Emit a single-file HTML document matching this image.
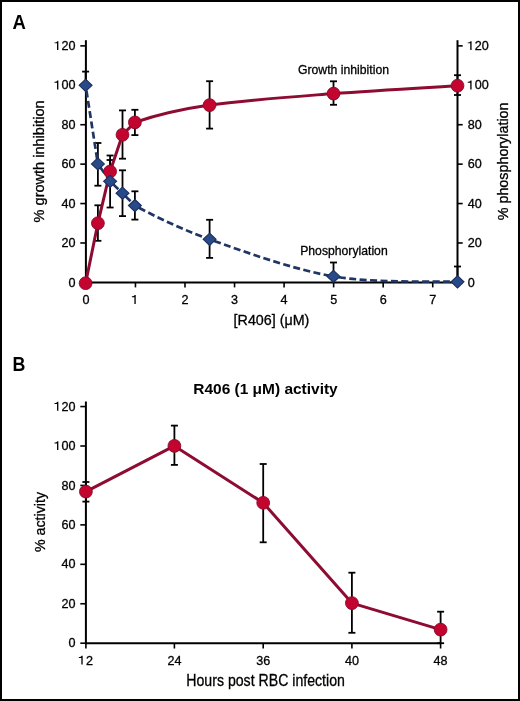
<!DOCTYPE html>
<html><head><meta charset="utf-8"><style>
html,body{margin:0;padding:0;background:#fff;}
body{width:520px;height:701px;position:relative;overflow:hidden;font-family:"Liberation Sans", sans-serif;}
</style></head><body>
<svg width="520" height="701" viewBox="0 0 520 701" style="position:absolute;left:0;top:0">
<style>text{stroke:#000;stroke-width:0.3px;}text[font-weight="bold"]{stroke:none;}</style>
<rect x="0" y="0" width="520" height="701" fill="#fff"/>
<defs><filter id="ff" filterUnits="userSpaceOnUse" x="0" y="0" width="520" height="701"><feOffset dx="0" dy="0"/></filter></defs>
<g filter="url(#ff)">
<rect x="1" y="1" width="518" height="699" fill="none" stroke="#000" stroke-width="2"/>
<text transform="translate(12.6,28.7) scale(0.95,1)" font-family='"Liberation Sans", sans-serif' font-weight="bold" font-size="19.5">A</text>
<g stroke="#000" fill="none">
<line x1="85.9" y1="40.2" x2="85.9" y2="283.4" stroke-width="2"/>
<line x1="457.5" y1="40.2" x2="457.5" y2="283.4" stroke-width="2"/>
<line x1="84.9" y1="282.4" x2="458.5" y2="282.4" stroke-width="2"/>
<line x1="80.30000000000001" y1="282.40" x2="85.9" y2="282.40" stroke-width="1.6"/>
<line x1="457.5" y1="282.40" x2="462.7" y2="282.40" stroke-width="1.6"/>
<line x1="80.30000000000001" y1="242.98" x2="85.9" y2="242.98" stroke-width="1.6"/>
<line x1="457.5" y1="242.98" x2="462.7" y2="242.98" stroke-width="1.6"/>
<line x1="80.30000000000001" y1="203.56" x2="85.9" y2="203.56" stroke-width="1.6"/>
<line x1="457.5" y1="203.56" x2="462.7" y2="203.56" stroke-width="1.6"/>
<line x1="80.30000000000001" y1="164.14" x2="85.9" y2="164.14" stroke-width="1.6"/>
<line x1="457.5" y1="164.14" x2="462.7" y2="164.14" stroke-width="1.6"/>
<line x1="80.30000000000001" y1="124.72" x2="85.9" y2="124.72" stroke-width="1.6"/>
<line x1="457.5" y1="124.72" x2="462.7" y2="124.72" stroke-width="1.6"/>
<line x1="80.30000000000001" y1="85.30" x2="85.9" y2="85.30" stroke-width="1.6"/>
<line x1="457.5" y1="85.30" x2="462.7" y2="85.30" stroke-width="1.6"/>
<line x1="80.30000000000001" y1="45.88" x2="85.9" y2="45.88" stroke-width="1.6"/>
<line x1="457.5" y1="45.88" x2="462.7" y2="45.88" stroke-width="1.6"/>
<line x1="85.90" y1="282.4" x2="85.90" y2="287.4" stroke-width="1.6"/>
<line x1="135.45" y1="282.4" x2="135.45" y2="287.4" stroke-width="1.6"/>
<line x1="184.99" y1="282.4" x2="184.99" y2="287.4" stroke-width="1.6"/>
<line x1="234.54" y1="282.4" x2="234.54" y2="287.4" stroke-width="1.6"/>
<line x1="284.09" y1="282.4" x2="284.09" y2="287.4" stroke-width="1.6"/>
<line x1="333.63" y1="282.4" x2="333.63" y2="287.4" stroke-width="1.6"/>
<line x1="383.18" y1="282.4" x2="383.18" y2="287.4" stroke-width="1.6"/>
<line x1="432.73" y1="282.4" x2="432.73" y2="287.4" stroke-width="1.6"/>
</g>
<g font-family='"Liberation Sans", sans-serif' font-size="12.6" fill="#000">
<text x="68.59" y="286.50">0</text>
<text x="467.80" y="286.50">0</text>
<text x="61.59" y="247.08">20</text>
<text x="467.80" y="247.08">20</text>
<text x="61.59" y="207.66">40</text>
<text x="467.80" y="207.66">40</text>
<text x="61.59" y="168.24">60</text>
<text x="467.80" y="168.24">60</text>
<text x="61.59" y="128.82">80</text>
<text x="467.80" y="128.82">80</text>
<path d="M58.36,89.40 L57.04,89.40 L57.04,82.78 L54.52,82.78 L54.52,81.84 C55.97,81.78 57.10,81.34 57.29,80.58 L58.36,80.58 Z" fill="#000"/><text x="61.59" y="89.40">00</text>
<path d="M471.58,89.40 L470.26,89.40 L470.26,82.78 L467.74,82.78 L467.74,81.84 C469.19,81.78 470.32,81.34 470.51,80.58 L471.58,80.58 Z" fill="#000"/><text x="474.81" y="89.40">00</text>
<path d="M58.36,49.98 L57.04,49.98 L57.04,43.36 L54.52,43.36 L54.52,42.42 C55.97,42.36 57.10,41.92 57.29,41.16 L58.36,41.16 Z" fill="#000"/><text x="61.59" y="49.98">20</text>
<path d="M471.58,49.98 L470.26,49.98 L470.26,43.36 L467.74,43.36 L467.74,42.42 C469.19,42.36 470.32,41.92 470.51,41.16 L471.58,41.16 Z" fill="#000"/><text x="474.81" y="49.98">20</text>
<text x="82.40" y="303.90">0</text>
<path d="M135.72,303.90 L134.40,303.90 L134.40,297.28 L131.88,297.28 L131.88,296.34 C133.33,296.28 134.46,295.84 134.65,295.08 L135.72,295.08 Z" fill="#000"/>
<text x="181.49" y="303.90">2</text>
<text x="231.04" y="303.90">3</text>
<text x="280.58" y="303.90">4</text>
<text x="330.13" y="303.90">5</text>
<text x="379.68" y="303.90">6</text>
<text x="429.22" y="303.90">7</text>
</g>
<text x="271.5" y="324.5" font-family='"Liberation Sans", sans-serif' font-size="14.3" text-anchor="middle">[R406] (μM)</text>
<text transform="translate(44.1,161.4) rotate(-90)" font-family='"Liberation Sans", sans-serif' font-size="14.3" text-anchor="middle" textLength="122" lengthAdjust="spacingAndGlyphs">% growth inhibition</text>
<text transform="translate(507.7,161.4) rotate(-90)" font-family='"Liberation Sans", sans-serif' font-size="14.3" text-anchor="middle" textLength="117.8" lengthAdjust="spacingAndGlyphs">% phosphorylation</text>
<text x="298" y="74" font-family='"Liberation Sans", sans-serif' font-size="12.6" textLength="91" lengthAdjust="spacingAndGlyphs">Growth inhibition</text>
<text x="300.2" y="255.1" font-family='"Liberation Sans", sans-serif' font-size="12.6" textLength="87.5" lengthAdjust="spacingAndGlyphs">Phosphorylation</text>
<g stroke="#000" stroke-width="1.8" fill="none">
<line x1="97.90" y1="205.30" x2="97.90" y2="240.80"/><line x1="94.40" y1="205.30" x2="101.40" y2="205.30"/><line x1="94.40" y1="240.80" x2="101.40" y2="240.80"/>
<line x1="110.10" y1="160.00" x2="110.10" y2="171.50"/><line x1="106.60" y1="160.00" x2="113.60" y2="160.00"/>
<line x1="122.50" y1="110.40" x2="122.50" y2="158.70"/><line x1="119.00" y1="110.40" x2="126.00" y2="110.40"/><line x1="119.00" y1="158.70" x2="126.00" y2="158.70"/>
<line x1="134.90" y1="109.80" x2="134.90" y2="135.10"/><line x1="131.40" y1="109.80" x2="138.40" y2="109.80"/><line x1="131.40" y1="135.10" x2="138.40" y2="135.10"/>
<line x1="209.60" y1="81.20" x2="209.60" y2="128.60"/><line x1="206.10" y1="81.20" x2="213.10" y2="81.20"/><line x1="206.10" y1="128.60" x2="213.10" y2="128.60"/>
<line x1="333.50" y1="81.30" x2="333.50" y2="104.80"/><line x1="330.00" y1="81.30" x2="337.00" y2="81.30"/><line x1="330.00" y1="104.80" x2="337.00" y2="104.80"/>
<line x1="457.50" y1="75.20" x2="457.50" y2="95.00"/><line x1="454.00" y1="75.20" x2="461.00" y2="75.20"/><line x1="454.00" y1="95.00" x2="461.00" y2="95.00"/>
<line x1="85.60" y1="71.60" x2="85.60" y2="85.30"/><line x1="82.10" y1="71.60" x2="89.10" y2="71.60"/>
<line x1="97.90" y1="143.00" x2="97.90" y2="185.70"/><line x1="94.40" y1="143.00" x2="101.40" y2="143.00"/><line x1="94.40" y1="185.70" x2="101.40" y2="185.70"/>
<line x1="110.10" y1="155.50" x2="110.10" y2="207.50"/><line x1="106.60" y1="155.50" x2="113.60" y2="155.50"/><line x1="106.60" y1="207.50" x2="113.60" y2="207.50"/>
<line x1="122.50" y1="170.30" x2="122.50" y2="216.10"/><line x1="119.00" y1="170.30" x2="126.00" y2="170.30"/><line x1="119.00" y1="216.10" x2="126.00" y2="216.10"/>
<line x1="134.90" y1="191.30" x2="134.90" y2="219.60"/><line x1="131.40" y1="191.30" x2="138.40" y2="191.30"/><line x1="131.40" y1="219.60" x2="138.40" y2="219.60"/>
<line x1="209.60" y1="219.80" x2="209.60" y2="257.90"/><line x1="206.10" y1="219.80" x2="213.10" y2="219.80"/><line x1="206.10" y1="257.90" x2="213.10" y2="257.90"/>
<line x1="333.50" y1="262.50" x2="333.50" y2="276.40"/><line x1="330.00" y1="262.50" x2="337.00" y2="262.50"/>
<line x1="457.50" y1="266.50" x2="457.50" y2="281.80"/><line x1="454.00" y1="266.50" x2="461.00" y2="266.50"/>
</g>
<path d="M85.60,85.30 L97.90,163.90" fill="none" stroke="#1F3563" stroke-width="2.7" stroke-dasharray="7.0 3.4" stroke-dashoffset="5.02"/>
<path d="M97.90,163.90 L110.10,181.30" fill="none" stroke="#1F3563" stroke-width="2.7" stroke-dasharray="7.0 3.4" stroke-dashoffset="5.92"/>
<path d="M110.10,181.30 L122.50,193.20" fill="none" stroke="#1F3563" stroke-width="2.7" stroke-dasharray="7.0 3.4" stroke-dashoffset="5.96"/>
<path d="M122.50,193.20 L134.90,205.60" fill="none" stroke="#1F3563" stroke-width="2.7" stroke-dasharray="7.0 3.4" stroke-dashoffset="5.97"/>
<path d="M134.90,205.60 C149.42,213.28 176.50,227.50 209.60,239.30" fill="none" stroke="#1F3563" stroke-width="2.7" stroke-dasharray="7.0 3.4" stroke-dashoffset="5.72"/>
<path d="M209.60,239.30 C242.70,251.10 292.18,269.32 333.50,276.40" fill="none" stroke="#1F3563" stroke-width="2.7" stroke-dasharray="7.0 3.4" stroke-dashoffset="5.43"/>
<path d="M333.50,276.40 C374.82,283.48 436.83,280.90 457.50,281.80" fill="none" stroke="#1F3563" stroke-width="2.7" stroke-dasharray="7.0 3.4" stroke-dashoffset="4.86"/>
<path d="M85.60,283.20 L97.90,223.20 L110.10,171.50 L122.50,134.80 L134.90,122.40 C149.42,117.45 176.50,109.90 209.60,105.10 C242.70,100.30 292.18,96.83 333.50,93.60 C374.82,90.37 436.83,87.02 457.50,85.70" fill="none" stroke="#8E0B32" stroke-width="3" stroke-linejoin="round"/>
<circle cx="85.60" cy="283.20" r="6.4" fill="#C2042F" stroke="#8A0A2C" stroke-width="0.9"/>
<circle cx="97.90" cy="223.20" r="6.4" fill="#C2042F" stroke="#8A0A2C" stroke-width="0.9"/>
<circle cx="110.10" cy="171.50" r="6.4" fill="#C2042F" stroke="#8A0A2C" stroke-width="0.9"/>
<circle cx="122.50" cy="134.80" r="6.4" fill="#C2042F" stroke="#8A0A2C" stroke-width="0.9"/>
<circle cx="134.90" cy="122.40" r="6.4" fill="#C2042F" stroke="#8A0A2C" stroke-width="0.9"/>
<circle cx="209.60" cy="105.10" r="6.4" fill="#C2042F" stroke="#8A0A2C" stroke-width="0.9"/>
<circle cx="333.50" cy="93.60" r="6.4" fill="#C2042F" stroke="#8A0A2C" stroke-width="0.9"/>
<circle cx="457.50" cy="85.70" r="6.4" fill="#C2042F" stroke="#8A0A2C" stroke-width="0.9"/>
<path d="M85.60,79.20 L92.05,85.30 L85.60,91.40 L79.15,85.30 Z" fill="#284A89" stroke="#1A2F5E" stroke-width="1.1" stroke-linejoin="miter"/>
<path d="M97.90,157.80 L104.35,163.90 L97.90,170.00 L91.45,163.90 Z" fill="#284A89" stroke="#1A2F5E" stroke-width="1.1" stroke-linejoin="miter"/>
<path d="M110.10,175.20 L116.55,181.30 L110.10,187.40 L103.65,181.30 Z" fill="#284A89" stroke="#1A2F5E" stroke-width="1.1" stroke-linejoin="miter"/>
<path d="M122.50,187.10 L128.95,193.20 L122.50,199.30 L116.05,193.20 Z" fill="#284A89" stroke="#1A2F5E" stroke-width="1.1" stroke-linejoin="miter"/>
<path d="M134.90,199.50 L141.35,205.60 L134.90,211.70 L128.45,205.60 Z" fill="#284A89" stroke="#1A2F5E" stroke-width="1.1" stroke-linejoin="miter"/>
<path d="M209.60,233.20 L216.05,239.30 L209.60,245.40 L203.15,239.30 Z" fill="#284A89" stroke="#1A2F5E" stroke-width="1.1" stroke-linejoin="miter"/>
<path d="M333.50,270.30 L339.95,276.40 L333.50,282.50 L327.05,276.40 Z" fill="#284A89" stroke="#1A2F5E" stroke-width="1.1" stroke-linejoin="miter"/>
<path d="M457.50,275.70 L463.95,281.80 L457.50,287.90 L451.05,281.80 Z" fill="#284A89" stroke="#1A2F5E" stroke-width="1.1" stroke-linejoin="miter"/>
<text transform="translate(12.6,370.5) scale(0.92,1)" font-family='"Liberation Sans", sans-serif' font-weight="bold" font-size="19.4">B</text>
<text x="193.3" y="393.7" font-family='"Liberation Sans", sans-serif' font-weight="bold" font-size="15.1" textLength="144.4" lengthAdjust="spacingAndGlyphs">R406 (1 μM) activity</text>
<g stroke="#000" fill="none">
<line x1="85.9" y1="401.5" x2="85.9" y2="644.2" stroke-width="2"/>
<line x1="84.9" y1="643.2" x2="441.40000000000003" y2="643.2" stroke-width="2"/>
<line x1="80.30000000000001" y1="643.20" x2="85.9" y2="643.20" stroke-width="1.6"/>
<line x1="80.30000000000001" y1="603.76" x2="85.9" y2="603.76" stroke-width="1.6"/>
<line x1="80.30000000000001" y1="564.32" x2="85.9" y2="564.32" stroke-width="1.6"/>
<line x1="80.30000000000001" y1="524.88" x2="85.9" y2="524.88" stroke-width="1.6"/>
<line x1="80.30000000000001" y1="485.44" x2="85.9" y2="485.44" stroke-width="1.6"/>
<line x1="80.30000000000001" y1="446.00" x2="85.9" y2="446.00" stroke-width="1.6"/>
<line x1="80.30000000000001" y1="406.56" x2="85.9" y2="406.56" stroke-width="1.6"/>
<line x1="85.90" y1="643.2" x2="85.90" y2="648.5" stroke-width="1.6"/>
<line x1="174.40" y1="643.2" x2="174.40" y2="648.5" stroke-width="1.6"/>
<line x1="263.20" y1="643.2" x2="263.20" y2="648.5" stroke-width="1.6"/>
<line x1="351.90" y1="643.2" x2="351.90" y2="648.5" stroke-width="1.6"/>
<line x1="440.60" y1="643.2" x2="440.60" y2="648.5" stroke-width="1.6"/>
</g>
<g font-family='"Liberation Sans", sans-serif' font-size="12.6" fill="#000">
<text x="68.59" y="647.30">0</text>
<text x="61.59" y="607.86">20</text>
<text x="61.59" y="568.42">40</text>
<text x="61.59" y="528.98">60</text>
<text x="61.59" y="489.54">80</text>
<path d="M58.36,450.10 L57.04,450.10 L57.04,443.49 L54.52,443.49 L54.52,442.54 C55.97,442.48 57.10,442.04 57.29,441.28 L58.36,441.28 Z" fill="#000"/><text x="61.59" y="450.10">00</text>
<path d="M58.36,410.66 L57.04,410.66 L57.04,404.05 L54.52,404.05 L54.52,403.10 C55.97,403.04 57.10,402.60 57.29,401.84 L58.36,401.84 Z" fill="#000"/><text x="61.59" y="410.66">20</text>
<path d="M82.67,664.60 L81.35,664.60 L81.35,657.99 L78.83,657.99 L78.83,657.04 C80.28,656.98 81.41,656.54 81.60,655.78 L82.67,655.78 Z" fill="#000"/><text x="85.90" y="664.60">2</text>
<text x="167.39" y="664.60">24</text>
<text x="256.19" y="664.60">36</text>
<text x="344.89" y="664.60">40</text>
<text x="433.59" y="664.60">48</text>
</g>
<text x="186.3" y="685.7" font-family='"Liberation Sans", sans-serif' font-size="16.2" textLength="158.6" lengthAdjust="spacingAndGlyphs">Hours post RBC infection</text>
<text transform="translate(44.8,522) rotate(-90)" font-family='"Liberation Sans", sans-serif' font-size="14" text-anchor="middle" textLength="60" lengthAdjust="spacingAndGlyphs">% activity</text>
<g stroke="#000" stroke-width="1.8" fill="none">
<line x1="85.90" y1="482.00" x2="85.90" y2="501.60"/><line x1="82.40" y1="482.00" x2="89.40" y2="482.00"/><line x1="82.40" y1="501.60" x2="89.40" y2="501.60"/>
<line x1="174.40" y1="425.60" x2="174.40" y2="464.90"/><line x1="170.90" y1="425.60" x2="177.90" y2="425.60"/><line x1="170.90" y1="464.90" x2="177.90" y2="464.90"/>
<line x1="263.20" y1="464.00" x2="263.20" y2="542.30"/><line x1="259.70" y1="464.00" x2="266.70" y2="464.00"/><line x1="259.70" y1="542.30" x2="266.70" y2="542.30"/>
<line x1="351.90" y1="572.70" x2="351.90" y2="632.80"/><line x1="348.40" y1="572.70" x2="355.40" y2="572.70"/><line x1="348.40" y1="632.80" x2="355.40" y2="632.80"/>
<line x1="440.60" y1="611.70" x2="440.60" y2="643.20"/><line x1="437.10" y1="611.70" x2="444.10" y2="611.70"/><line x1="437.10" y1="643.20" x2="444.10" y2="643.20"/>
</g>
<path d="M85.90,491.60 L174.40,445.90 L263.20,502.80 L351.90,603.10 L440.60,629.60" fill="none" stroke="#8E0B32" stroke-width="3" stroke-linejoin="round"/>
<circle cx="85.90" cy="491.60" r="6.4" fill="#C2042F" stroke="#8A0A2C" stroke-width="0.9"/>
<circle cx="174.40" cy="445.90" r="6.4" fill="#C2042F" stroke="#8A0A2C" stroke-width="0.9"/>
<circle cx="263.20" cy="502.80" r="6.4" fill="#C2042F" stroke="#8A0A2C" stroke-width="0.9"/>
<circle cx="351.90" cy="603.10" r="6.4" fill="#C2042F" stroke="#8A0A2C" stroke-width="0.9"/>
<circle cx="440.60" cy="629.60" r="6.4" fill="#C2042F" stroke="#8A0A2C" stroke-width="0.9"/>
</g>
</svg>
</body></html>
